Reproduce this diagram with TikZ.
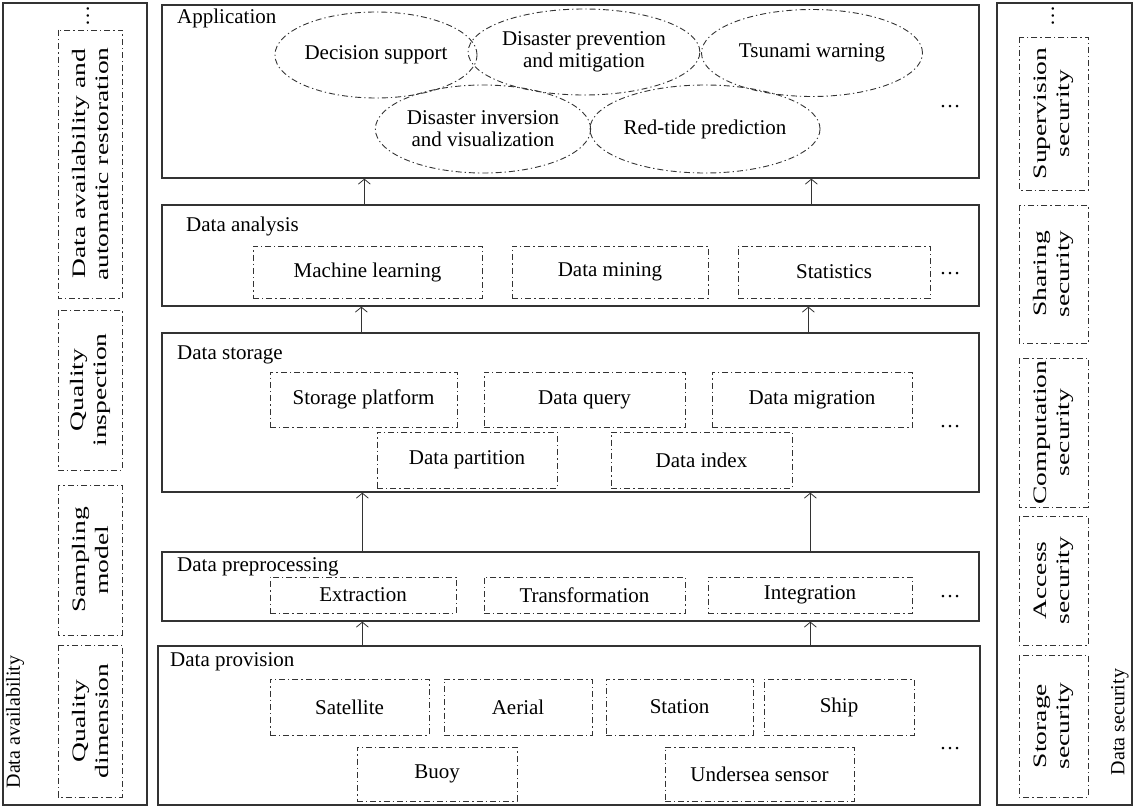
\documentclass[tikz,border=0pt]{standalone}
\usepackage{fontspec}
\setmainfont{Liberation Serif}
\newfontfamily\widefont[FakeStretch=1.45]{Liberation Serif}
\usetikzlibrary{arrows.meta,positioning,shapes.geometric}

\begin{document}
\begin{tikzpicture}[
  x=1pt, y=-1pt,
  font=\fontsize{21}{22}\selectfont,
  layer/.style={draw=black!80, line width=1.3pt, inner sep=0pt},
  item/.style={draw=black!80, line width=0.9pt, dash pattern=on 6pt off 3pt on 1.3pt off 3pt,
    align=center, inner sep=0pt},
  goal/.style={item, ellipse},
  side/.style={item, rotate=90, minimum height=64pt, font=\widefont\fontsize{19}{23}\selectfont},
  tag/.style={anchor=west, inner sep=0pt},
  flow/.style={->, draw=black!80, line width=0.8pt},
  >={Straight Barb[length=5pt,width=12pt]}
]
\useasboundingbox (0,0) rectangle (1135,808);

% side panels
\node[layer, minimum width=144pt, minimum height=802pt] (avail) at (75,404) {};
\node[layer, minimum width=135pt, minimum height=802pt] (secur) at (1064.5,404) {};

\node[rotate=90, inner sep=0pt, font=\fontsize{20}{22}\selectfont] (availtag) at (15,722) {Data availability};
\node[rotate=90, inner sep=0pt] (availdots) at (88,16) {\dots};
\node[side, minimum width=152pt] (qdim) at (90,721) {Quality\\dimension};
\node[side, minimum width=150pt] (smod) at (90,560) {Sampling\\model};
\node[side, minimum width=160pt] (qins) at (90,390) {Quality\\inspection};
\node[side, minimum width=268pt] (dare) at (90,164) {Data availability and\\automatic restoration};

\node[rotate=90, inner sep=0pt, font=\fontsize{20}{22}\selectfont] (securtag) at (1120,722) {Data security};
\node[rotate=90, inner sep=0pt] (securdots) at (1053,16) {\dots};
\node[side, minimum width=142pt, minimum height=69pt] (ssto) at (1053.5,726) {Storage\\security};
\node[side, minimum width=129pt, minimum height=69pt] (sacc) at (1053.5,580.5) {Access\\security};
\node[side, minimum width=149pt, minimum height=69pt] (scom) at (1053.5,432.5) {Computation\\security};
\node[side, minimum width=138pt, minimum height=69pt] (ssha) at (1053.5,274) {Sharing\\security};
\node[side, minimum width=153pt, minimum height=69pt] (ssup) at (1053.5,113.5) {Supervision\\security};

% layers
\node[layer, minimum width=817pt, minimum height=173pt] (app) at (570.5,91.5) {};
\node[layer, minimum width=817pt, minimum height=101pt] (ana) at (570.5,255.5) {};
\node[layer, minimum width=817pt, minimum height=159pt] (sto) at (570.5,412.5) {};
\node[layer, minimum width=817pt, minimum height=69pt] (pre) at (570.5,586.5) {};
\node[layer, minimum width=822pt, minimum height=159pt] (prov) at (569,725.5) {};

\node[tag] (apptag) at (177,18) {Application};
\node[tag] (anatag) at (186,226) {Data analysis};
\node[tag] (stotag) at (177,355) {Data storage};
\node[tag] (pretag) at (177,567) {Data preprocessing};
\node[tag] (provtag) at (170,662) {Data provision};

% application
\node[goal, minimum width=192pt, minimum height=86pt] (decis) at (376,55) {Decision support};
\node[goal, minimum width=201pt, minimum height=86pt] (prevent) at (584,52) {Disaster prevention\\and mitigation};
\node[goal, minimum width=221pt, minimum height=87pt] (tsunami) at (812,53) {Tsunami warning};
\node[goal, minimum width=213pt, minimum height=88pt] (invers) at (483,129) {Disaster inversion\\and visualization};
\node[goal, minimum width=214pt, minimum height=88pt] (redtide) at (705,129) {Red-tide prediction};
\node (appdots) at (950,107) {\dots};

% data analysis
\node[item, minimum width=229pt, minimum height=52pt] (mlearn) at (367.5,272) {Machine learning};
\node[item, minimum width=196pt, minimum height=52pt] (dmine) at (610,272) {Data mining};
\node[item, minimum width=192pt, minimum height=52pt] (stats) at (834,272) {Statistics};
\node (anadots) at (950,274) {\dots};

% data storage
\node[item, minimum width=187pt, minimum height=55pt] (splat) at (363.5,399.5) {Storage platform};
\node[item, minimum width=201pt, minimum height=55pt] (dquery) at (584.5,399.5) {Data query};
\node[item, minimum width=200pt, minimum height=55pt] (dmigr) at (812,399.5) {Data migration};
\node[item, minimum width=180pt, minimum height=56pt] (dpart) at (467,460) {Data partition};
\node[item, minimum width=181pt, minimum height=56pt] (dindex) at (701.5,460) {Data index};
\node (stodots) at (950,427) {\dots};

% data preprocessing
\node[item, minimum width=186pt, minimum height=36pt] (extr) at (363,595) {Extraction};
\node[item, minimum width=201pt, minimum height=36pt] (transf) at (584.5,595) {Transformation};
\node[item, minimum width=204pt, minimum height=36pt] (integr) at (810,595) {Integration};
\node (predots) at (950,597) {\dots};

% data provision
\node[item, minimum width=159pt, minimum height=56pt] (sat) at (349.5,707) {Satellite};
\node[item, minimum width=148pt, minimum height=56pt] (aerial) at (518,707) {Aerial};
\node[item, minimum width=147pt, minimum height=56pt] (station) at (679.5,707) {Station};
\node[item, minimum width=150pt, minimum height=56pt] (ship) at (839,707) {Ship};
\node[item, minimum width=160pt, minimum height=54pt] (buoy) at (437,774) {Buoy};
\node[item, minimum width=189pt, minimum height=54pt] (usens) at (759.5,774) {Undersea sensor};
\node (provdots) at (950,749) {\dots};

% flow between layers
\draw[flow] ([xshift=203pt]ana.north west) -- ([xshift=203pt]app.south west);
\draw[flow] ([xshift=650pt]ana.north west) -- ([xshift=650pt]app.south west);
\draw[flow] ([xshift=200pt]sto.north west) -- ([xshift=200pt]ana.south west);
\draw[flow] ([xshift=647pt]sto.north west) -- ([xshift=647pt]ana.south west);
\draw[flow] ([xshift=201pt]pre.north west) -- ([xshift=201pt]sto.south west);
\draw[flow] ([xshift=649pt]pre.north west) -- ([xshift=649pt]sto.south west);
\draw[flow] ([xshift=205pt]prov.north west) -- ([xshift=201pt]pre.south west);
\draw[flow] ([xshift=653pt]prov.north west) -- ([xshift=649pt]pre.south west);
\end{tikzpicture}
\end{document}
